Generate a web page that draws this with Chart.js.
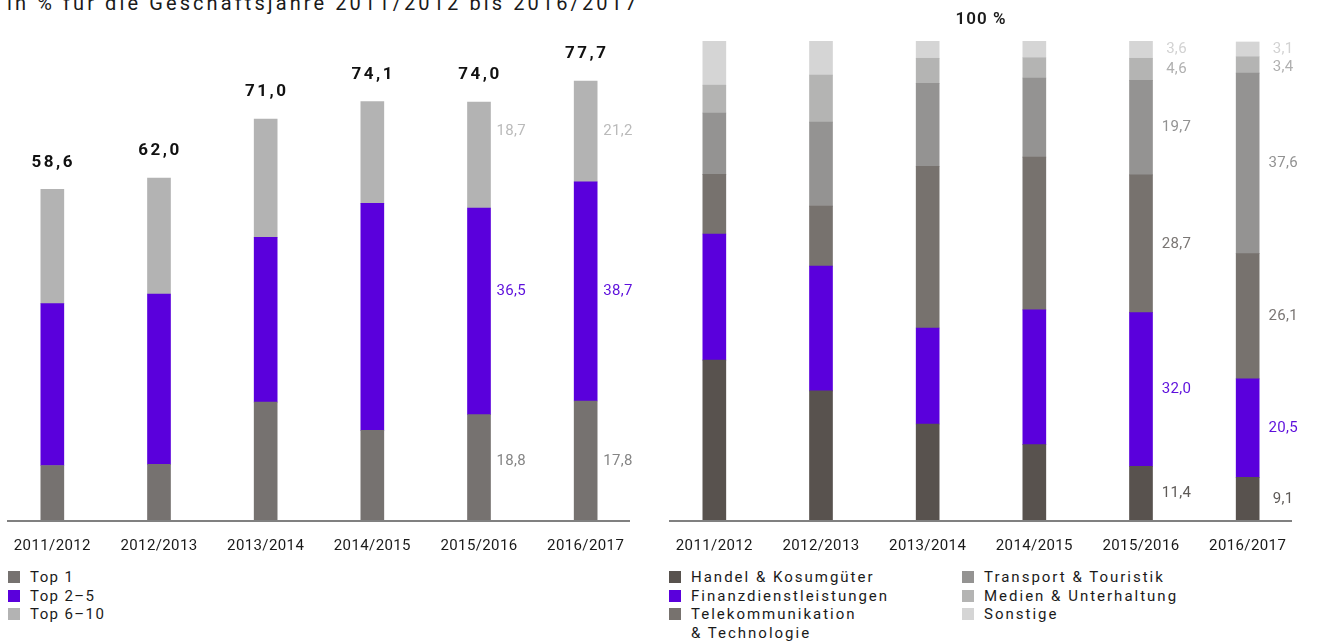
<!DOCTYPE html>
<html>
<head>
<meta charset="utf-8">
<script src="https://cdn.jsdelivr.net/npm/chart.js@4/dist/chart.umd.min.js"></script>
<style>
  body { margin: 0; background: #fff; font-family: Roboto, sans-serif; color: #1a1a1a; }
  #wrap { position: relative; width: 1317px; height: 644px; overflow: hidden; }
  canvas { position: absolute; top: 0; }
  #title { position: absolute; left: 7px; top: -7px; font-size: 20px; line-height: 20px; letter-spacing: 3.1px; white-space: nowrap; }
  #hundred { position: absolute; left: 881px; width: 200px; top: 8px; text-align: center; font-size: 17px; font-weight: 600; letter-spacing: 1px; }
  .legend { position: absolute; top: 568px; font-size: 15px; line-height: 18.5px; letter-spacing: 1.4px; }
  .legend .item { position: relative; padding-left: 22px; white-space: pre-line; }
  .legend .sw { position: absolute; left: 0; top: 3px; width: 12px; height: 12px; }
  #legendRight { letter-spacing: 2px; display: grid; grid-template-columns: 293px auto; grid-template-rows: auto auto auto; grid-auto-flow: column; align-items: start; }
</style>
</head>
<body>
<div id="wrap">
  <div id="title">in % für die Geschäftsjahre 2011/2012 bis 2016/2017</div>
  <canvas id="leftChart" width="640" height="561" style="left:-1px"></canvas>
  <canvas id="rightChart" width="640" height="561" style="left:661px"></canvas>
  <div id="hundred">100 %</div>
  <div class="legend" id="legendLeft" style="left:8px"></div>
  <div class="legend" id="legendRight" style="left:669px"></div>
</div>
<script>
// years shown on both charts
const years = ['2011/2012', '2012/2013', '2013/2014', '2014/2015', '2015/2016', '2016/2017'];

// left chart: share of the top clients (segment heights as drawn)
const top1 = [9.8, 10.0, 21.0, 16.0, 18.8, 21.2];
const top2to5 = [28.6, 30.1, 29.1, 40.1, 36.5, 38.7];
const top6to10 = [20.2, 20.5, 20.9, 18.0, 18.7, 17.8];
const totals = [58.6, 62.0, 71.0, 74.1, 74.0, 77.7];

// printed values next to the last two bars
const printedTop1 = [18.8, 17.8];
const printedTop2to5 = [36.5, 38.7];
const printedTop6to10 = [18.7, 21.2];

// right chart: industries, 100 % per year
const handel = [33.5, 27.1, 20.2, 15.9, 11.4, 9.1];
const finanz = [26.3, 26.0, 20.0, 28.1, 32.0, 20.5];
const telekom = [12.4, 12.5, 33.7, 31.8, 28.7, 26.1];
const transport = [12.8, 17.5, 17.3, 16.5, 19.7, 37.6];
const medien = [5.8, 9.8, 5.2, 4.2, 4.6, 3.4];
const sonstige = [9.2, 7.1, 3.6, 3.5, 3.6, 3.1];

// only the last two years get value labels
const labelled = [4, 5];

function fmt(v) {
  return v.toFixed(1).replace('.', ',');
}

const baseline = {
  id: 'baseline',
  beforeDraw(chart) {
    chart.ctx.letterSpacing = '0.4px';
  },
  afterDatasetsDraw(chart) {
    const ctx = chart.ctx;
    const a = chart.chartArea;
    ctx.save();
    ctx.strokeStyle = '#808080';
    ctx.lineWidth = 2;
    ctx.beginPath();
    ctx.moveTo(a.left + 8, a.bottom);
    ctx.lineTo(a.right - 9, a.bottom);
    ctx.stroke();
    ctx.restore();
  }
};

const leftLabels = {
  id: 'leftLabels',
  afterDatasetsDraw(chart) {
    const ctx = chart.ctx;
    const sets = chart.data.datasets;
    ctx.save();
    // totals above the bars
    const topMeta = chart.getDatasetMeta(sets.length - 1);
    ctx.font = 'bold 17px Roboto';
    ctx.letterSpacing = '2.5px';
    ctx.fillStyle = '#111';
    ctx.textAlign = 'center';
    ctx.textBaseline = 'middle';
    topMeta.data.forEach(function (bar, i) {
      ctx.fillText(fmt(totals[i]), bar.x + 1, bar.y - 27);
    });
    // segment values, lined up with the newest bar
    ctx.font = '15px Roboto';
    ctx.letterSpacing = '0.3px';
    ctx.textAlign = 'left';
    const ref = years.length - 1;
    labelled.forEach(function (i, k) {
      sets.forEach(function (ds, d) {
        const meta = chart.getDatasetMeta(d);
        const bar = meta.data[i];
        const r = meta.data[ref];
        ctx.fillStyle = ds.labelColor;
        ctx.fillText(fmt(ds.printed[k]), bar.x + bar.width / 2 + 6, (r.y + r.base) / 2);
      });
    });
    ctx.restore();
  }
};

const rightLabels = {
  id: 'rightLabels',
  afterDatasetsDraw(chart) {
    const ctx = chart.ctx;
    const sets = chart.data.datasets;
    ctx.save();
    ctx.font = '15px Roboto';
    ctx.letterSpacing = '0.3px';
    ctx.textAlign = 'center';
    ctx.textBaseline = 'middle';
    labelled.forEach(function (i) {
      let prev = -100;
      for (let d = sets.length - 1; d >= 0; d--) {
        const bar = chart.getDatasetMeta(d).data[i];
        let y = (bar.y + bar.base) / 2;
        if (y < prev + 18) y = prev + 18;
        prev = y;
        ctx.fillStyle = sets[d].labelColor;
        ctx.fillText(fmt(sets[d].data[i]), bar.x + bar.width / 2 + 24, y);
      }
    });
    ctx.restore();
  }
};

function options(max) {
  return {
    responsive: false,
    animation: false,
    layout: { padding: { top: 41, left: 0, right: 0, bottom: 0 } },
    plugins: { legend: { display: false }, tooltip: { enabled: false } },
    scales: {
      x: {
        stacked: true,
        grid: { display: false, drawTicks: false },
        border: { display: false },
        ticks: { color: '#1a1a1a', font: { family: 'Roboto', size: 15 }, padding: 16 },
        afterFit: function (scale) { scale.height = 40; }
      },
      y: { stacked: true, min: 0, max: max, display: false }
    }
  };
}

function bars(label, data, color, labelColor, printed) {
  return {
    label: label,
    data: data,
    backgroundColor: color,
    labelColor: labelColor,
    printed: printed,
    borderWidth: 0,
    barThickness: 23
  };
}

const leftSets = [
  bars('Top 1', top1, '#767270', '#858585', printedTop1),
  bars('Top 2–5', top2to5, '#5a00dc', '#5d0fdc', printedTop2to5),
  bars('Top 6–10', top6to10, '#b3b3b3', '#bababa', printedTop6to10)
];

const rightSets = [
  bars('Handel & Kosumgüter', handel, '#58524e', '#5e5a57'),
  bars('Finanzdienstleistungen', finanz, '#5a00dc', '#5d0fdc'),
  bars('Telekommunikation\n& Technologie', telekom, '#77726e', '#7a7674'),
  bars('Transport & Touristik', transport, '#949392', '#929292'),
  bars('Medien & Unterhaltung', medien, '#b4b4b3', '#b0b0b0'),
  bars('Sonstige', sonstige, '#d5d5d5', '#d2d2d2')
];

new Chart(document.getElementById('leftChart'), {
  type: 'bar',
  data: { labels: years, datasets: leftSets },
  options: options(84.8),
  plugins: [baseline, leftLabels]
});

new Chart(document.getElementById('rightChart'), {
  type: 'bar',
  data: { labels: years, datasets: rightSets },
  options: options(100),
  plugins: [baseline, rightLabels]
});

function legend(id, sets) {
  const box = document.getElementById(id);
  sets.forEach(function (ds) {
    const item = document.createElement('div');
    item.className = 'item';
    const sw = document.createElement('span');
    sw.className = 'sw';
    sw.style.background = ds.backgroundColor;
    item.appendChild(sw);
    item.appendChild(document.createTextNode(ds.label));
    box.appendChild(item);
  });
}

legend('legendLeft', leftSets);
legend('legendRight', rightSets);
</script>
</body>
</html>
